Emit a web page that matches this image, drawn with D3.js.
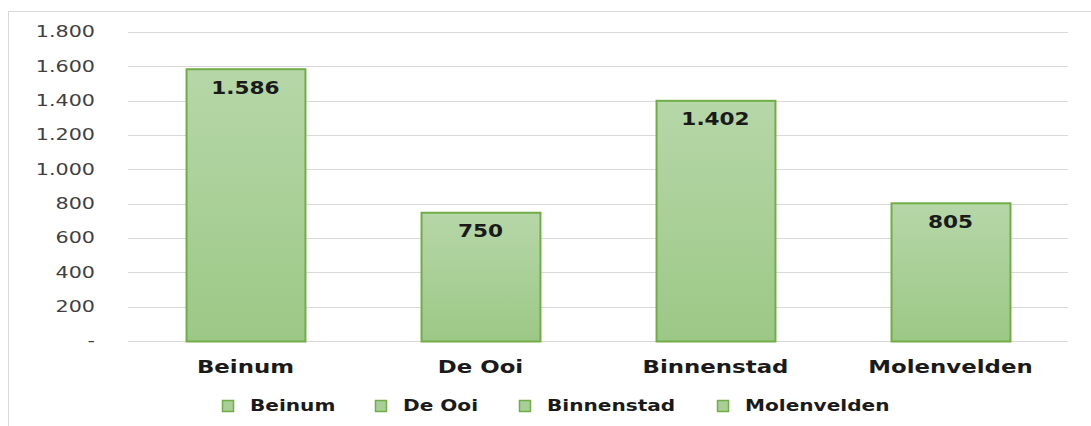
<!DOCTYPE html>
<html><head><meta charset="utf-8">
<script src="https://cdn.jsdelivr.net/npm/d3@7"></script>
<style>body{margin:0;background:#fff;}svg{display:block;}</style>
</head><body>
<svg id="c" width="1091" height="426"></svg>
<script>
const categories = ["Beinum","De Ooi","Binnenstad","Molenvelden"];
const values = [1586, 750, 1402, 805];
const tickValues = [0,200,400,600,800,1000,1200,1400,1600,1800];
const fmt = v => v === 0 ? "-" : d3.format(",")(v).replace(/,/g, ".");

const svg = d3.select("#c");
const W = 1091, H = 426;
const m = {left:128, right:23, top:32, bottom:85};

function stretch(sel, k) {
  sel.each(function(){
    const t = d3.select(this);
    const ax = +t.attr("x") || 0;
    t.attr("transform", `translate(${ax*(1-k)},0) scale(${k},1)`);
  });
}

svg.append("rect").attr("x",8.5).attr("y",11.5).attr("width",W+10).attr("height",H+10)
  .attr("fill","#fff").attr("stroke","#d9d9d9").attr("stroke-width",1);

const defs = svg.append("defs");
const g = defs.append("linearGradient").attr("id","grad").attr("x1",0).attr("y1",0).attr("x2",0).attr("y2",1);
g.append("stop").attr("offset","0%").attr("stop-color","#b6d7a8");
g.append("stop").attr("offset","100%").attr("stop-color","#9cc886");

const x = d3.scaleBand().domain(categories).range([m.left, W-m.right]).paddingInner(0.494).paddingOuter(0.247);
const y = d3.scaleLinear().domain([0,1800]).range([H-m.bottom, m.top]);

// gridlines
svg.append("g").selectAll("line").data(tickValues).join("line")
  .attr("x1",m.left).attr("x2",W-m.right)
  .attr("y1",d=>Math.round(y(d))+0.5).attr("y2",d=>Math.round(y(d))+0.5)
  .attr("stroke","#d9d9d9").attr("stroke-width",1);

// y axis labels
const yAxis = d3.axisLeft(y).tickValues(tickValues).tickFormat(fmt).tickSize(0).tickPadding(0);
const ya = svg.append("g").attr("transform",`translate(95,0)`).call(yAxis);
ya.select(".domain").remove();
ya.selectAll("text").attr("font-family","DejaVu Sans").attr("font-size",15).attr("fill","#404040");
stretch(ya.selectAll("text"), 1.38);

// bars
svg.append("g").selectAll("rect").data(values).join("rect")
  .attr("x",(d,i)=>x(categories[i])+0.5)
  .attr("y",d=>y(d)+0.5)
  .attr("width",x.bandwidth())
  .attr("height",d=>y(0)-y(d))
  .attr("fill","url(#grad)").attr("stroke","#70ad47").attr("stroke-width",2);

// value labels
const vl = svg.append("g").selectAll("text").data(values).join("text")
  .attr("x",(d,i)=>x(categories[i])+x.bandwidth()/2)
  .attr("y",d=>y(d)+25)
  .attr("text-anchor","middle").attr("font-family","DejaVu Sans").attr("font-weight","bold")
  .attr("font-size",17).attr("fill","#1a1a1a").text(fmt);
stretch(vl, 1.27);

// x axis labels
const xAxis = d3.axisBottom(x).tickSize(0).tickPadding(0);
const xa = svg.append("g").attr("transform",`translate(0,${H-m.bottom+19})`).call(xAxis);
xa.select(".domain").remove();
xa.selectAll("text").attr("font-family","DejaVu Sans").attr("font-weight","bold").attr("font-size",18)
  .attr("fill","#1a1a1a").attr("dy","0.71em");
stretch(xa.selectAll("text"), 1.27);

// legend
const legX = [222, 375, 519, 717];
const leg = svg.append("g").selectAll("g").data(categories).join("g")
  .attr("transform",(d,i)=>`translate(${legX[i]},406)`);
leg.append("rect").attr("x",0.5).attr("y",-5.5).attr("width",11).attr("height",11)
  .attr("fill","#a9cf98").attr("stroke","#70ad47").attr("stroke-width",1.5);
const lt = leg.append("text").attr("x",28).attr("y",0).attr("dy","0.35em")
  .attr("font-family","DejaVu Sans").attr("font-weight","bold").attr("font-size",15).attr("fill","#1a1a1a")
  .text(d=>d);
stretch(lt, 1.34);
</script>
</body></html>
